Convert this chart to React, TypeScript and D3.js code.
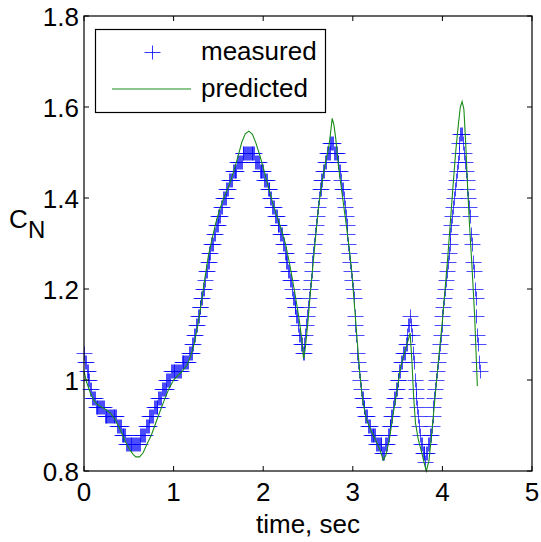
import React from 'react';
import * as d3 from 'd3';

const X_TICKS = [0, 1, 2, 3, 4, 5];
const Y_TICKS = [0.8, 1.0, 1.2, 1.4, 1.6, 1.8];
const Y_TICK_LABELS = ['0.8', '1', '1.2', '1.4', '1.6', '1.8'];
const X_LABEL = 'time, sec';
const Y_LABEL_MAIN = 'C';
const Y_LABEL_SUB = 'N';
const LEGEND_LABELS = ['measured', 'predicted'];

// measured C_N (read as quantized levels), sampled every 0.01 s starting at t = 0
const MEAS_T0 = 0;
const MEAS_DT = 0.01;
const measured = [
  1.06, 1.04, 1.04, 1.02, 1.02, 1.00, 1.00, 0.98, 0.98, 0.96,
  0.96, 0.96, 0.96, 0.94, 0.94, 0.94, 0.94, 0.94, 0.94, 0.94,
  0.94, 0.94, 0.94, 0.92, 0.92, 0.92, 0.92, 0.92, 0.92, 0.92,
  0.92, 0.92, 0.92, 0.92, 0.92, 0.92, 0.92, 0.90, 0.90, 0.90,
  0.90, 0.90, 0.88, 0.88, 0.88, 0.88, 0.88, 0.86, 0.86, 0.86,
  0.86, 0.86, 0.86, 0.86, 0.86, 0.86, 0.86, 0.86, 0.86, 0.86,
  0.86, 0.86, 0.86, 0.88, 0.88, 0.88, 0.88, 0.88, 0.88, 0.90,
  0.90, 0.90, 0.90, 0.92, 0.92, 0.92, 0.92, 0.92, 0.94, 0.94,
  0.94, 0.94, 0.94, 0.96, 0.96, 0.96, 0.96, 0.98, 0.98, 0.98,
  0.98, 0.98, 1.00, 1.00, 1.00, 1.00, 1.00, 1.02, 1.02, 1.02,
  1.02, 1.02, 1.02, 1.02, 1.02, 1.02, 1.02, 1.02, 1.02, 1.04,
  1.04, 1.04, 1.04, 1.04, 1.04, 1.04, 1.04, 1.06, 1.06, 1.06,
  1.06, 1.08, 1.08, 1.10, 1.10, 1.12, 1.12, 1.14, 1.14, 1.16,
  1.16, 1.18, 1.18, 1.20, 1.20, 1.22, 1.24, 1.24, 1.26, 1.26,
  1.28, 1.28, 1.30, 1.30, 1.30, 1.32, 1.32, 1.34, 1.34, 1.34,
  1.36, 1.36, 1.36, 1.38, 1.38, 1.40, 1.40, 1.40, 1.40, 1.42,
  1.42, 1.42, 1.44, 1.44, 1.44, 1.44, 1.46, 1.46, 1.46, 1.46,
  1.46, 1.48, 1.48, 1.48, 1.48, 1.48, 1.48, 1.50, 1.50, 1.50,
  1.50, 1.50, 1.50, 1.50, 1.50, 1.50, 1.50, 1.50, 1.50, 1.50,
  1.50, 1.48, 1.48, 1.48, 1.48, 1.48, 1.46, 1.46, 1.46, 1.46,
  1.46, 1.44, 1.44, 1.44, 1.44, 1.42, 1.42, 1.42, 1.40, 1.40,
  1.38, 1.38, 1.38, 1.36, 1.36, 1.36, 1.34, 1.34, 1.34, 1.32,
  1.32, 1.32, 1.30, 1.30, 1.28, 1.28, 1.26, 1.26, 1.24, 1.24,
  1.22, 1.22, 1.20, 1.18, 1.18, 1.16, 1.16, 1.14, 1.14, 1.12,
  1.10, 1.10, 1.08, 1.08, 1.06, 1.06, 1.08, 1.10, 1.12, 1.14,
  1.16, 1.18, 1.20, 1.22, 1.24, 1.26, 1.28, 1.30, 1.32, 1.34,
  1.36, 1.38, 1.40, 1.42, 1.42, 1.44, 1.44, 1.46, 1.46, 1.48,
  1.48, 1.50, 1.50, 1.50, 1.50, 1.52, 1.52, 1.52, 1.52, 1.50,
  1.50, 1.50, 1.50, 1.48, 1.48, 1.46, 1.46, 1.44, 1.42, 1.42,
  1.40, 1.38, 1.36, 1.34, 1.32, 1.30, 1.28, 1.26, 1.24, 1.22,
  1.20, 1.18, 1.14, 1.12, 1.10, 1.06, 1.04, 1.02, 1.00, 0.98,
  0.96, 0.96, 0.94, 0.94, 0.92, 0.92, 0.92, 0.90, 0.90, 0.90,
  0.88, 0.88, 0.88, 0.88, 0.88, 0.88, 0.86, 0.86, 0.86, 0.86,
  0.86, 0.86, 0.86, 0.84, 0.84, 0.84, 0.86, 0.86, 0.86, 0.88,
  0.88, 0.90, 0.90, 0.92, 0.92, 0.94, 0.96, 0.96, 0.98, 0.98,
  1.00, 1.00, 1.02, 1.02, 1.04, 1.04, 1.06, 1.06, 1.06, 1.08,
  1.08, 1.10, 1.12, 1.12, 1.14, 1.12, 1.10, 1.06, 1.04, 1.00,
  0.98, 0.96, 0.94, 0.92, 0.90, 0.88, 0.86, 0.86, 0.84, 0.84,
  0.84, 0.82, 0.84, 0.84, 0.86, 0.86, 0.88, 0.88, 0.90, 0.92,
  0.94, 0.96, 0.98, 1.00, 1.02, 1.04, 1.06, 1.08, 1.10, 1.12,
  1.14, 1.16, 1.18, 1.20, 1.22, 1.24, 1.26, 1.28, 1.30, 1.32,
  1.34, 1.36, 1.38, 1.40, 1.42, 1.44, 1.46, 1.48, 1.50, 1.52,
  1.54, 1.54, 1.54, 1.52, 1.50, 1.48, 1.46, 1.44, 1.42, 1.40,
  1.38, 1.36, 1.32, 1.30, 1.26, 1.24, 1.20, 1.18, 1.14, 1.10,
  1.08, 1.04, 1.02,
];

// predicted C_N
const predictedT = [
  0.00, 0.03, 0.07, 0.11, 0.15, 0.20, 0.25, 0.30, 0.35, 0.40,
  0.45, 0.50, 0.55, 0.58, 0.62, 0.66, 0.70, 0.75, 0.80, 0.85,
  0.90, 0.95, 1.00, 1.05, 1.10, 1.15, 1.19, 1.23, 1.27, 1.31,
  1.35, 1.39, 1.43, 1.47, 1.52, 1.57, 1.62, 1.67, 1.72, 1.76,
  1.80, 1.84, 1.88, 1.92, 1.96, 2.00, 2.05, 2.10, 2.15, 2.20,
  2.25, 2.30, 2.35, 2.40, 2.43, 2.45, 2.47, 2.50, 2.53, 2.56,
  2.59, 2.62, 2.66, 2.70, 2.73, 2.75, 2.77, 2.79, 2.81, 2.84,
  2.88, 2.92, 2.96, 2.99, 3.02, 3.05, 3.08, 3.11, 3.15, 3.20,
  3.25, 3.30, 3.34, 3.37, 3.41, 3.45, 3.49, 3.53, 3.57, 3.60,
  3.64, 3.66, 3.68, 3.70, 3.73, 3.77, 3.80, 3.82, 3.85, 3.88,
  3.91, 3.94, 3.97, 4.00, 4.03, 4.06, 4.09, 4.12, 4.15, 4.18,
  4.20, 4.22, 4.24, 4.26, 4.28, 4.30, 4.33, 4.36, 4.39,
];
const predictedV = [
  1.020, 0.995, 0.972, 0.955, 0.946, 0.940, 0.934, 0.926, 0.912, 0.893,
  0.870, 0.850, 0.836, 0.831, 0.831, 0.840, 0.858, 0.878, 0.905, 0.932,
  0.958, 0.982, 1.000, 1.010, 1.020, 1.033, 1.052, 1.080, 1.120, 1.170,
  1.225, 1.275, 1.310, 1.345, 1.378, 1.405, 1.428, 1.458, 1.492, 1.522,
  1.541, 1.547, 1.540, 1.520, 1.495, 1.467, 1.430, 1.393, 1.362, 1.332,
  1.298, 1.250, 1.195, 1.135, 1.090, 1.047, 1.070, 1.130, 1.200, 1.262,
  1.325, 1.385, 1.440, 1.482, 1.510, 1.540, 1.575, 1.560, 1.530, 1.470,
  1.410, 1.352, 1.290, 1.235, 1.160, 1.085, 1.010, 0.955, 0.915, 0.890,
  0.870, 0.848, 0.824, 0.835, 0.872, 0.925, 0.972, 1.025, 1.055, 1.075,
  1.103, 1.040, 0.960, 0.905, 0.870, 0.840, 0.815, 0.800, 0.822, 0.880,
  0.945, 1.010, 1.070, 1.130, 1.200, 1.270, 1.350, 1.430, 1.505, 1.565,
  1.600, 1.612, 1.595, 1.520, 1.430, 1.350, 1.250, 1.140, 0.987,
];

const W = 541;
const H = 542;
const PLOT = { left: 84, right: 532, top: 16, bottom: 471 };
const FONT = '"Liberation Sans", Arial, Helvetica, sans-serif';

export default function App() {
  const x = d3.scaleLinear().domain([0, 5]).range([PLOT.left, PLOT.right]);
  const y = d3.scaleLinear().domain([0.8, 1.8]).range([PLOT.bottom, PLOT.top]);

  const measPts = measured.map((v, i) => [MEAS_T0 + i * MEAS_DT, v] as [number, number]);
  const predPts = predictedT.map((t, i) => [t, predictedV[i]] as [number, number]);

  const line = d3
    .line<[number, number]>()
    .x((d) => x(d[0]))
    .y((d) => y(d[1]));

  const hw = 8;
  const hh = 7;
  const plusPath = (px: number, py: number) => {
    const cx = Math.round(px) + 0.5;
    const cy = Math.round(py) + 0.5;
    return `M${cx - hw},${cy}H${cx + hw}M${cx},${cy - hh}V${cy + hh}`;
  };

  const tickLen = 5;
  const blue = '#0000ff';
  const green = '#1a8c1a';

  return (
    <svg
      width={W}
      height={H}
      viewBox={`0 0 ${W} ${H}`}
      style={{ position: 'absolute', left: 0, top: 0, background: '#fff' }}
      fontFamily={FONT}
    >
      <rect x={0} y={0} width={W} height={H} fill="#fff" />

      {/* measured markers */}
      <g stroke={blue} strokeWidth={1} fill="none" strokeOpacity={0.7}>
        {measPts.map((d, i) => (
          <path key={i} d={plusPath(x(d[0]), y(d[1]))} />
        ))}
      </g>
      {/* predicted line */}
      <path d={line(predPts) || ''} stroke={green} strokeWidth={1.1} fill="none" />

      {/* frame */}
      <rect
        x={PLOT.left}
        y={PLOT.top}
        width={PLOT.right - PLOT.left}
        height={PLOT.bottom - PLOT.top}
        fill="none"
        stroke="#000"
        strokeWidth={1.2}
      />

      {/* x ticks */}
      {X_TICKS.map((t) => (
        <g key={'xt' + t}>
          <line x1={x(t)} x2={x(t)} y1={PLOT.bottom} y2={PLOT.bottom - tickLen} stroke="#000" />
          <line x1={x(t)} x2={x(t)} y1={PLOT.top} y2={PLOT.top + tickLen} stroke="#000" />
          <text x={x(t)} y={PLOT.bottom + 30} fontSize={26} textAnchor="middle" fill="#000">
            {String(t)}
          </text>
        </g>
      ))}

      {/* y ticks */}
      {Y_TICKS.map((v, i) => (
        <g key={'yt' + v}>
          <line x1={PLOT.left} x2={PLOT.left + tickLen} y1={y(v)} y2={y(v)} stroke="#000" />
          <line x1={PLOT.right} x2={PLOT.right - tickLen} y1={y(v)} y2={y(v)} stroke="#000" />
          <text x={PLOT.left - 5} y={y(v) + 9.5} fontSize={26} textAnchor="end" fill="#000">
            {Y_TICK_LABELS[i]}
          </text>
        </g>
      ))}

      {/* axis labels */}
      <text x={(PLOT.left + PLOT.right) / 2} y={533} fontSize={26} textAnchor="middle" fill="#000">
        {X_LABEL}
      </text>
      <text x={9} y={228} fontSize={26} fill="#000">
        {Y_LABEL_MAIN}
      </text>
      <text x={28} y={238} fontSize={24} fill="#000">
        {Y_LABEL_SUB}
      </text>

      {/* legend */}
      <rect x={95.5} y={29.5} width={230} height={83} fill="#fff" stroke="#000" strokeWidth={1.2} />
      <path d={plusPath(152, 52)} stroke={blue} strokeWidth={1} fill="none" strokeOpacity={0.8} />
      <line x1={112} x2={191} y1={89} y2={89} stroke={green} strokeWidth={1.1} />
      <text x={201} y={60} fontSize={26} fill="#000">
        {LEGEND_LABELS[0]}
      </text>
      <text x={201} y={97} fontSize={26} fill="#000">
        {LEGEND_LABELS[1]}
      </text>
    </svg>
  );
}
